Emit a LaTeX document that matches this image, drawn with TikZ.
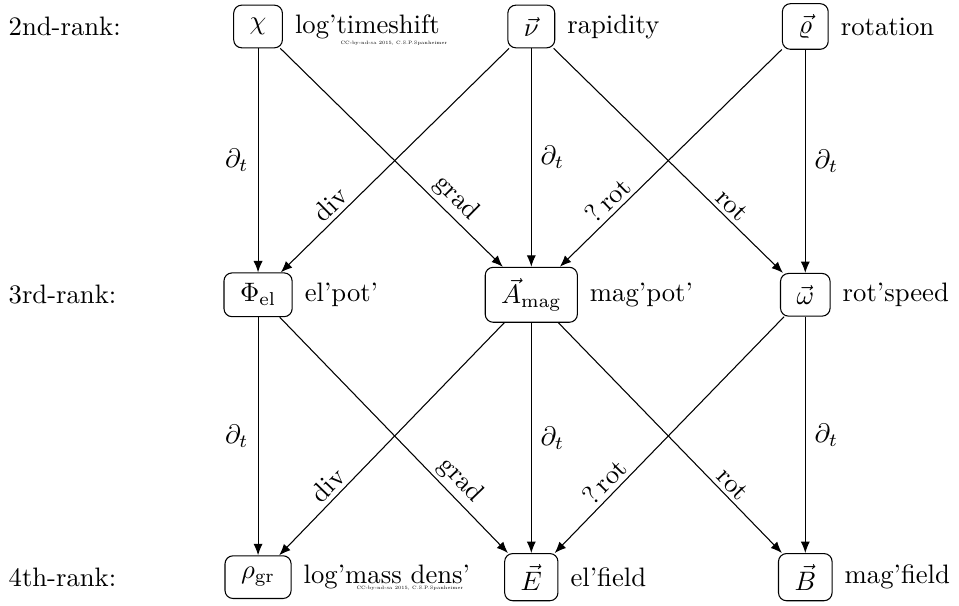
\documentclass[tikz,border=0pt]{standalone}
\usepackage{amsmath,amssymb}
\usetikzlibrary{arrows.meta,positioning}
\tikzset{
  qbox/.style={draw, rounded corners=3pt, inner xsep=6pt, inner ysep=4pt,
    minimum height=16pt},
  arr/.style={-{Latex[length=1.5mm,width=1.2mm]}},
  oplab/.style={sloped, above, pos=0.74, inner sep=1.5pt},
  ccnote/.style={font=\fontsize{1.8}{2.2}\selectfont, inner sep=0pt}
}
\begin{document}
\begin{tikzpicture}[x=1cm,y=1cm]
  \useasboundingbox (0,0) rectangle (12.635,7.984);
  % ranks
  \node[anchor=west] (rank2) at (-0.01,7.635) {2nd-rank:};
  \node[anchor=west] (rank3) at (-0.01,4.10) {3rd-rank:};
  \node[anchor=west] (rank4) at (-0.01,0.38) {4th-rank:};
  % quantities
  \node[qbox] (chi) at (3.40,7.635) {$\chi$};
  \node[qbox] (nu) at (7.00,7.635) {$\vec{\nu}$};
  \node[qbox] (rho) at (10.61,7.635) {$\vec{\varrho}$};
  \node[qbox] (phi) at (3.40,4.10) {$\Phi_{\text{el}}$};
  \node[qbox] (amag) at (7.00,4.10) {$\vec{A}_{\text{mag}}$};
  \node[qbox] (omega) at (10.61,4.10) {$\vec{\omega}$};
  \node[qbox] (rhogr) at (3.40,0.38) {$\rho_{\text{gr}}$};
  \node[qbox] (efield) at (7.00,0.38) {$\vec{E}$};
  \node[qbox] (bfield) at (10.61,0.38) {$\vec{B}$};
  % names
  \node[right=1pt of chi] (chilab) {log'timeshift};
  \node[right=1pt of nu] (nulab) {rapidity};
  \node[right=1pt of rho] (rholab) {rotation};
  \node[right=1pt of phi] (philab) {el'pot'};
  \node[right=1pt of amag] (amaglab) {mag'pot'};
  \node[right=1pt of omega] (omegalab) {rot'speed};
  \node[right=1pt of rhogr] (rhogrlab) {log'mass dens'};
  \node[right=1pt of efield] (efieldlab) {el'field};
  \node[right=1pt of bfield] (bfieldlab) {mag'field};
  \node[ccnote] (cctop) at (5.19,7.42) {CC-by-nd-sa 2015, C.S.P.Spanheimer};
  \node[ccnote] (ccbot) at (5.40,0.237) {CC-by-nd-sa 2015, C.S.P.Spanheimer};
  % 2nd -> 3rd
  \draw[arr] (chi) -- node[left] {$\partial_t$} (phi);
  \draw[arr] (chi) -- node[oplab] {grad} (amag);
  \draw[arr] (nu) -- node[oplab] {div} (phi);
  \draw[arr] (nu) -- node[right] {$\partial_t$} (amag);
  \draw[arr] (nu) -- node[oplab] {rot} (omega);
  \draw[arr] (rho) -- node[oplab] {?\,rot} (amag);
  \draw[arr] (rho) -- node[right] {$\partial_t$} (omega);
  % 3rd -> 4th
  \draw[arr] (phi) -- node[left] {$\partial_t$} (rhogr);
  \draw[arr] (phi) -- node[oplab] {grad} (efield);
  \draw[arr] (amag) -- node[oplab] {div} (rhogr);
  \draw[arr] (amag) -- node[right] {$\partial_t$} (efield);
  \draw[arr] (amag) -- node[oplab] {rot} (bfield);
  \draw[arr] (omega) -- node[oplab] {?\,rot} (efield);
  \draw[arr] (omega) -- node[right] {$\partial_t$} (bfield);
\end{tikzpicture}
\end{document}
